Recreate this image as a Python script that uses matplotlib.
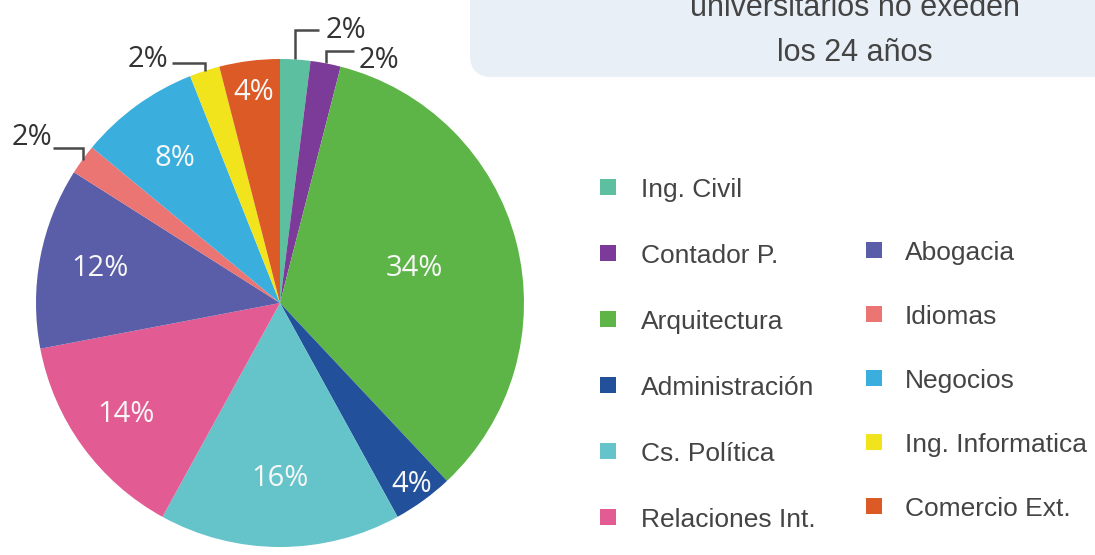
import numpy as np
import matplotlib
matplotlib.use('Agg')
import matplotlib.pyplot as plt
from matplotlib.patches import Rectangle, FancyBboxPatch

# carreras y porcentajes, en sentido horario desde las 12
carreras = ['Ing. Civil', 'Contador P.', 'Arquitectura', 'Administración',
            'Cs. Política', 'Relaciones Int.', 'Abogacia', 'Idiomas',
            'Negocios', 'Ing. Informatica', 'Comercio Ext.']
porcentajes = [2, 2, 34, 4, 16, 14, 12, 2, 8, 2, 4]
colores = ['#5cbf9f', '#7c3b98', '#5cb546', '#23509b', '#65c3ca', '#e25b93',
           '#5a5da7', '#ea7573', '#3aafde', '#f1e41d', '#dc5a26']

# etiquetas dentro del sector: distancia radial (1 = borde)
dist_interior = {2: 0.57, 3: 0.92, 4: 0.72, 5: 0.78, 6: 0.75, 8: 0.73, 10: 0.87}
# etiquetas fuera: (altura del codo, fin del trazo, x texto, y texto)
llamadas = {0: (1.119, 0.160, 0.189, 1.115),
            1: (1.033, 0.303, 0.324, 0.992),
            9: (0.984, -0.443, -0.459, 1.000),
            7: (0.635, -0.930, -0.934, 0.680)}

W, H = 1095, 555
CX, CY, R = 280, 303, 244

fig = plt.figure(figsize=(W / 100, H / 100), dpi=100)
fig.patch.set_facecolor('white')

ax = fig.add_axes([0, 0, 1, 1])
wedges, _ = ax.pie(porcentajes, colors=colores, startangle=90,
                   counterclock=False, radius=1,
                   wedgeprops=dict(linewidth=0))
ax.set_xlim(-CX / R, (W - CX) / R)
ax.set_ylim(-(H - CY) / R, CY / R)
ax.set_aspect('auto')
ax.axis('off')

pct_font = dict(family=['Open Sans', 'DejaVu Sans'], fontsize=21)

for i, w in enumerate(wedges):
    ang = np.deg2rad((w.theta1 + w.theta2) / 2)
    etiqueta = '%d%%' % porcentajes[i]
    if i in dist_interior:
        d = dist_interior[i]
        ax.text(d * np.cos(ang), d * np.sin(ang), etiqueta, color='#f7f7f7',
                ha='center', va='center', **pct_font)
    elif i in llamadas:
        codo_y, fin_x, tx, ty = llamadas[i]
        x0 = np.cos(ang)
        y0 = np.sin(ang)
        ax.plot([x0, x0, fin_x], [y0, codo_y, codo_y], color='#4a4a4a',
                lw=1.8, solid_capstyle='butt', solid_joinstyle='miter')
        ha = 'left' if fin_x > x0 else 'right'
        ax.text(tx, ty, etiqueta, color='#333333', ha=ha, va='center',
                **pct_font)

# capa en pixeles para el recuadro y la leyenda
ov = fig.add_axes([0, 0, 1, 1])
ov.set_xlim(0, W)
ov.set_ylim(H, 0)
ov.axis('off')
ov.patch.set_alpha(0)

caja = FancyBboxPatch((470, -60), 700, 137,
                      boxstyle='round,pad=0,rounding_size=22',
                      facecolor='#e8eff7', edgecolor='none')
ov.add_patch(caja)
txt_font = dict(family=['Liberation Sans', 'DejaVu Sans'], color='#444444')
ov.text(855, 16, 'universitarios no exeden', ha='center', va='baseline',
        fontsize=22, **txt_font)
ov.text(855, 61, 'los 24 años', ha='center', va='baseline',
        fontsize=22, **txt_font)

# leyenda en dos columnas
col1 = list(range(0, 6))
col2 = list(range(6, 11))
lado = 16
for fila, i in enumerate(col1):
    cy = 187 + 66 * fila
    ov.add_patch(Rectangle((608 - lado / 2, cy - lado / 2), lado, lado,
                           facecolor=colores[i], edgecolor='none'))
    ov.text(641, cy + 3, carreras[i], ha='left', va='center',
            fontsize=19, **txt_font)
for fila, i in enumerate(col2):
    cy = 250 + 64 * fila
    ov.add_patch(Rectangle((874 - lado / 2, cy - lado / 2), lado, lado,
                           facecolor=colores[i], edgecolor='none'))
    ov.text(905, cy + 3, carreras[i], ha='left', va='center',
            fontsize=19, **txt_font)

fig.savefig('out.png', dpi=100, facecolor='white')
